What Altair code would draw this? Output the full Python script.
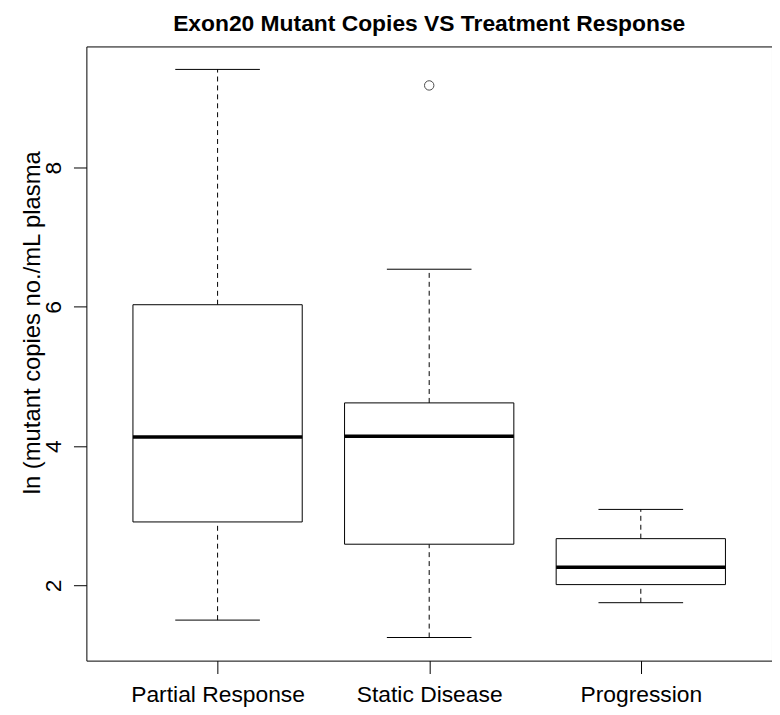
import altair as alt
import pandas as pd

title_text = "Exon20 Mutant Copies VS Treatment Response"
groups = ["Partial Response", "Static Disease", "Progression"]
positions = [1, 2, 3]
lower_whisker = [1.50, 1.25, 1.75]
q1 = [2.91, 2.59, 2.01]
median = [4.13, 4.14, 2.26]
q3 = [6.03, 4.62, 2.67]
upper_whisker = [9.41, 6.54, 3.09]

outlier_pos = [2]
outlier_val = [9.18]

tick_values = [2, 4, 6, 8]

df = pd.DataFrame({
    "group": groups, "pos": positions, "lo": lower_whisker, "q1": q1,
    "med": median, "q3": q3, "hi": upper_whisker,
})
out_df = pd.DataFrame({"pos": outlier_pos, "val": outlier_val})
title_df = pd.DataFrame({"t": [title_text]})

W, H = 691, 619

xscale = alt.Scale(domain=[0.38, 3.62], nice=False, zero=False)
yscale = alt.Scale(domain=[0.918, 9.74], nice=False, zero=False)

label_expr = "datum.value == 1 ? '" + groups[0] + "' : datum.value == 2 ? '" + groups[1] + "' : '" + groups[2] + "'"

xaxis = alt.Axis(values=positions, labelExpr=label_expr, title=None, grid=False, domain=False,
                 tickSize=13, tickColor="black", tickWidth=1, labelFontSize=23, labelLimit=400,
                 labelFont="Liberation Sans", labelColor="black", labelPadding=10, labelFlush=False)
yaxis = alt.Axis(values=tick_values, format="d", title="ln (mutant copies no./mL plasma",
                 grid=False, domain=False,
                 tickSize=13, tickColor="black", tickWidth=1, labelFontSize=23, labelAngle=270,
                 labelFont="Liberation Sans", labelColor="black", labelPadding=8,
                 titleFont="Liberation Sans", titleFontSize=24, titleFontWeight="normal",
                 titleColor="black", titleX=-42, titleY=278)

base = alt.Chart(df).transform_calculate(
    xl="datum.pos - 0.4", xr="datum.pos + 0.4", cl="datum.pos - 0.2", cr="datum.pos + 0.2"
)

upper = base.mark_rule(color="black", strokeDash=[5, 4], strokeWidth=1).encode(
    x=alt.X("pos:Q", scale=xscale, axis=xaxis),
    y=alt.Y("q3:Q", scale=yscale, axis=yaxis), y2="hi:Q")
lower = base.mark_rule(color="black", strokeDash=[5, 4], strokeWidth=1).encode(
    x="pos:Q", y="lo:Q", y2="q1:Q")
cap_hi = base.mark_rule(color="black", strokeWidth=1).encode(x="cl:Q", x2="cr:Q", y="hi:Q")
cap_lo = base.mark_rule(color="black", strokeWidth=1).encode(x="cl:Q", x2="cr:Q", y="lo:Q")
box = base.mark_rect(fill="white", stroke="black", strokeWidth=1).encode(
    x="xl:Q", x2="xr:Q", y="q1:Q", y2="q3:Q")
med = base.mark_rule(color="black", strokeWidth=3.5).encode(x="xl:Q", x2="xr:Q", y="med:Q")
outl = alt.Chart(out_df).mark_point(shape="circle", filled=False, color="black", size=90,
                                    strokeWidth=1).encode(x="pos:Q", y="val:Q")
title_mark = alt.Chart(title_df).mark_text(
    font="Liberation Sans", fontSize=23, fontWeight="bold", color="black",
    align="center", baseline="alphabetic", clip=False
).encode(text="t:N", x=alt.value(W / 2), y=alt.value(-16))

chart = alt.layer(upper, lower, cap_hi, cap_lo, box, med, outl, title_mark).properties(
    width=W, height=H,
    autosize=alt.AutoSizeParams(type="none"),
    padding={"left": 79, "top": 36, "right": 0, "bottom": 44},
).configure(background="white").configure_view(stroke="black", strokeWidth=1)

chart.save("out.html", embed_options={"renderer": "svg", "actions": False})
